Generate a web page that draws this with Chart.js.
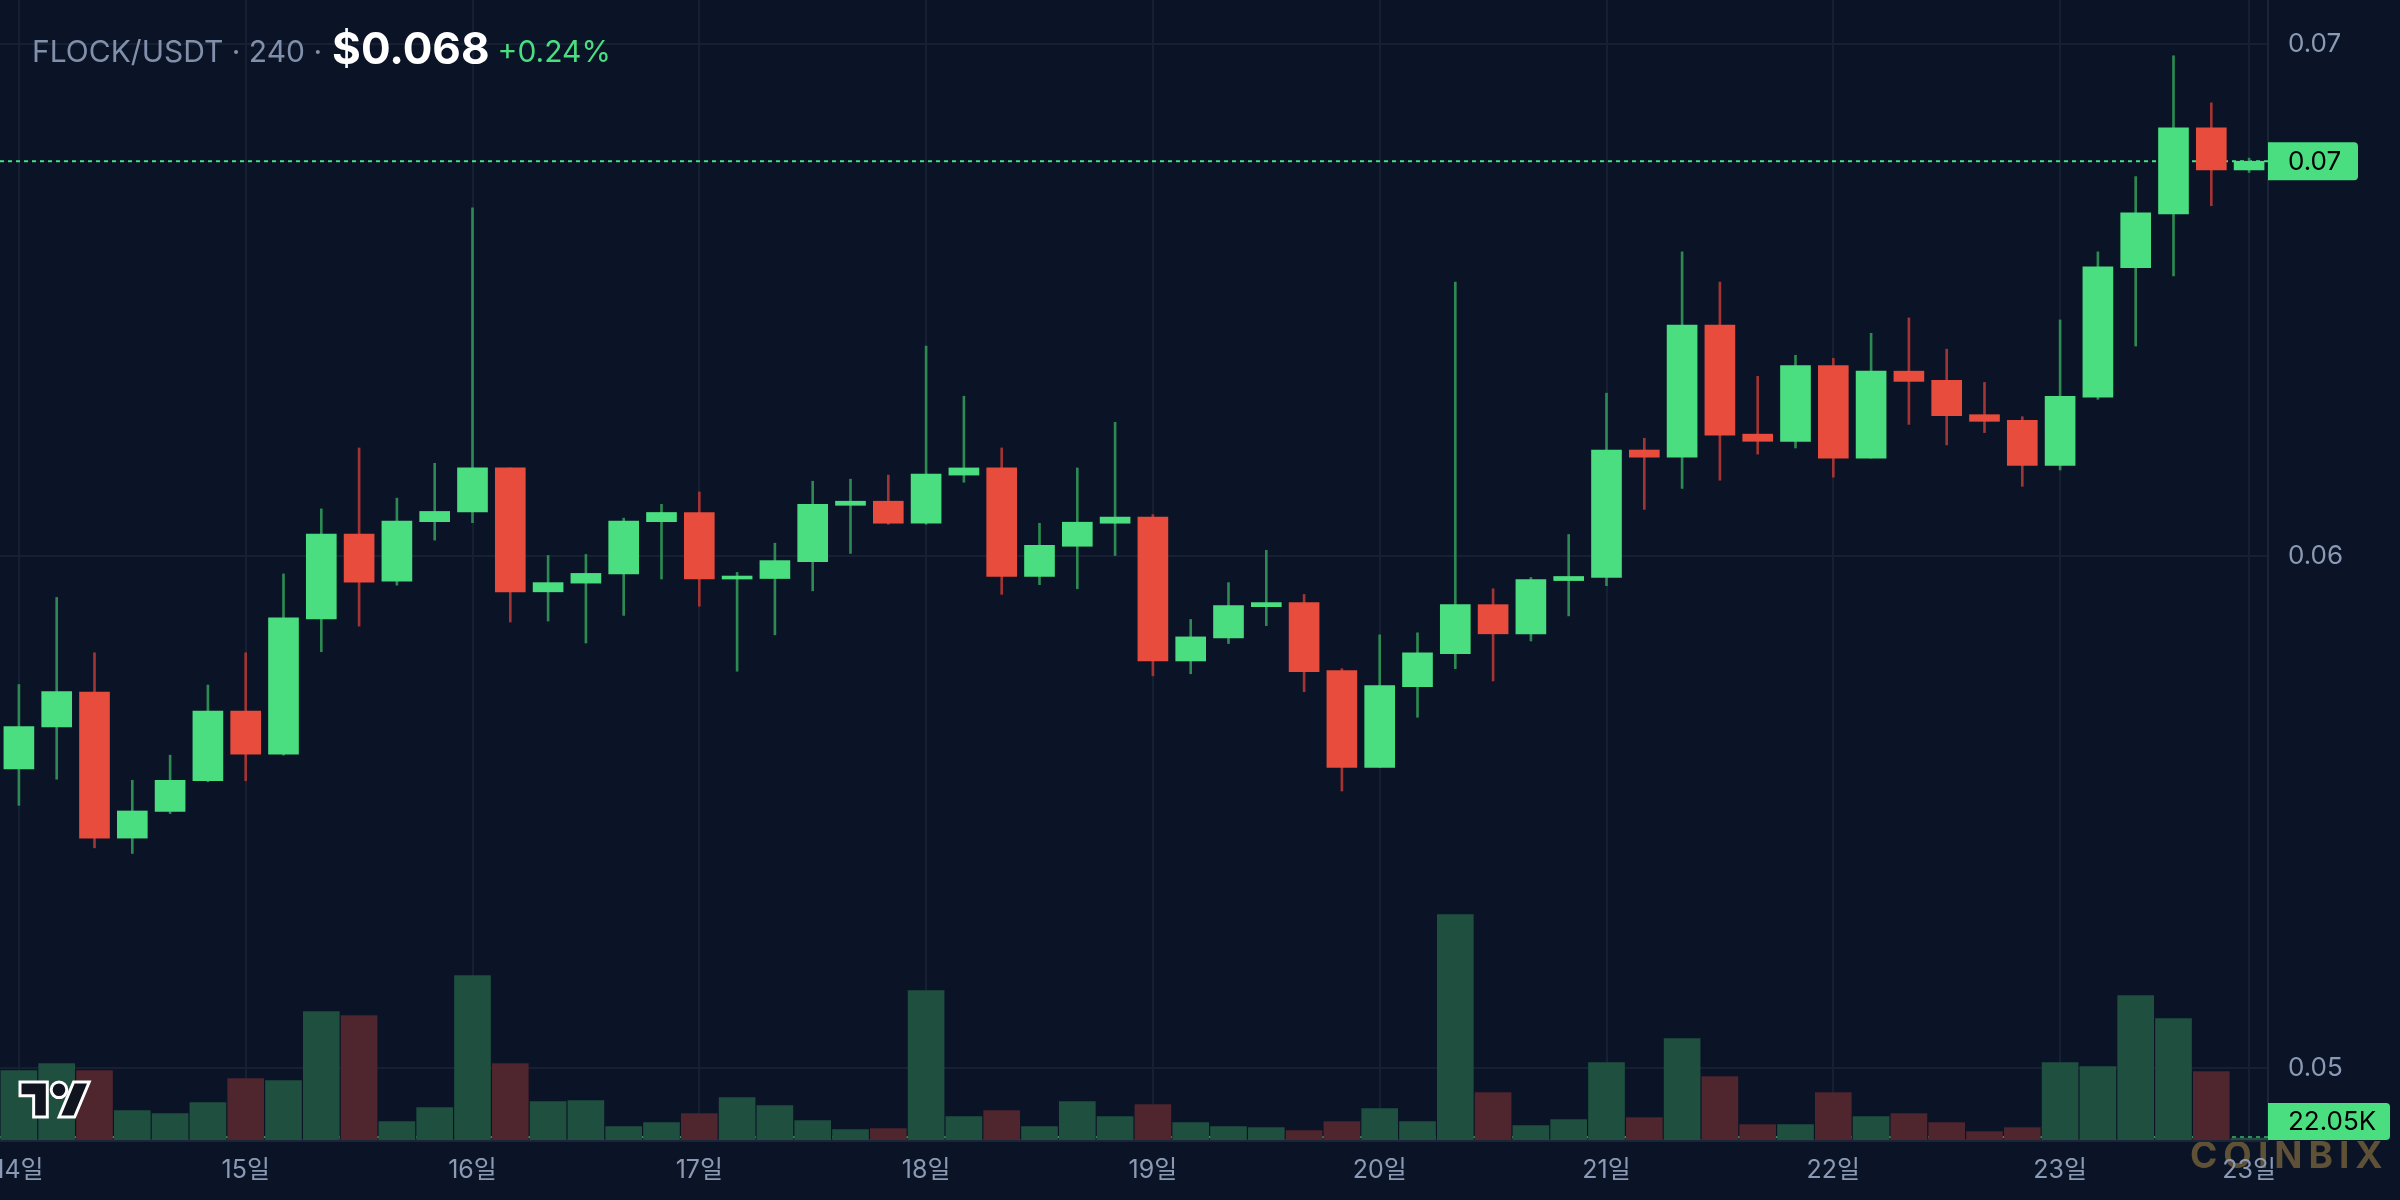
<!DOCTYPE html>
<html>
<head>
<meta charset="utf-8">
<script src="https://cdn.jsdelivr.net/npm/chart.js@4.4.1/dist/chart.umd.min.js"></script>
<style>
  html, body { margin: 0; padding: 0; background: #0b1326; }
  #wrap { width: 2400px; height: 1200px; position: relative; }
</style>
</head>
<body>
<div id="wrap"><canvas id="chart"></canvas></div>
<script>
// 4h candles, 14일 00:00 .. 23일 20:00
const dayLabels = ['14일', '15일', '16일', '17일', '18일', '19일', '20일', '21일', '22일', '23일'];
const hourLabels = ['00:00', '04:00', '08:00', '12:00', '16:00', '20:00'];

const opens = [
  0.05584, 0.05666, 0.05734, 0.05449, 0.05501, 0.05561, 0.05697, 0.05613, 0.05877, 0.06043,
  0.05951, 0.06067, 0.06086, 0.06172, 0.05930, 0.05947, 0.05965, 0.06067, 0.06085, 0.05955,
  0.05956, 0.05989, 0.06099, 0.06107, 0.06064, 0.06158, 0.06172, 0.05960, 0.06019, 0.06064,
  0.06076, 0.05795, 0.05840, 0.05901, 0.05909, 0.05776, 0.05587, 0.05745, 0.05809, 0.05905,
  0.05848, 0.05952, 0.05958, 0.06207, 0.06193, 0.06451, 0.06238, 0.06224, 0.06372, 0.06191,
  0.06361, 0.06343, 0.06276, 0.06265, 0.06177, 0.06310, 0.06563, 0.06668, 0.06836, 0.06754
];
const closes = [
  0.05667, 0.05735, 0.05449, 0.05502, 0.05562, 0.05697, 0.05613, 0.05879, 0.06043, 0.05949,
  0.06068, 0.06087, 0.06172, 0.05930, 0.05948, 0.05966, 0.06068, 0.06085, 0.05955, 0.05957,
  0.05991, 0.06101, 0.06107, 0.06064, 0.06160, 0.06172, 0.05960, 0.06021, 0.06066, 0.06076,
  0.05795, 0.05842, 0.05903, 0.05909, 0.05774, 0.05587, 0.05747, 0.05811, 0.05905, 0.05848,
  0.05954, 0.05960, 0.06207, 0.06193, 0.06451, 0.06236, 0.06224, 0.06372, 0.06191, 0.06361,
  0.06341, 0.06274, 0.06263, 0.06177, 0.06312, 0.06565, 0.06670, 0.06836, 0.06754, 0.06771
];
const highs = [
  0.05749, 0.05919, 0.05811, 0.05562, 0.05611, 0.05748, 0.05811, 0.05965, 0.06092, 0.06211,
  0.06113, 0.06181, 0.06680, 0.06172, 0.06001, 0.06003, 0.06074, 0.06101, 0.06125, 0.05968,
  0.06025, 0.06146, 0.06150, 0.06158, 0.06410, 0.06312, 0.06211, 0.06064, 0.06172, 0.06261,
  0.06081, 0.05876, 0.05948, 0.06011, 0.05925, 0.05780, 0.05846, 0.05850, 0.06535, 0.05936,
  0.05958, 0.06042, 0.06318, 0.06230, 0.06594, 0.06535, 0.06351, 0.06392, 0.06386, 0.06435,
  0.06465, 0.06404, 0.06339, 0.06272, 0.06461, 0.06594, 0.06741, 0.06977, 0.06885, 0.06777
];
const lows = [
  0.05513, 0.05564, 0.05430, 0.05419, 0.05497, 0.05559, 0.05561, 0.05611, 0.05813, 0.05863,
  0.05943, 0.06031, 0.06065, 0.05871, 0.05873, 0.05830, 0.05884, 0.05955, 0.05902, 0.05775,
  0.05846, 0.05932, 0.06005, 0.06062, 0.06062, 0.06144, 0.05925, 0.05944, 0.05936, 0.06001,
  0.05766, 0.05770, 0.05829, 0.05864, 0.05735, 0.05541, 0.05587, 0.05685, 0.05780, 0.05756,
  0.05834, 0.05883, 0.05942, 0.06091, 0.06132, 0.06148, 0.06199, 0.06211, 0.06154, 0.06191,
  0.06257, 0.06217, 0.06241, 0.06136, 0.06168, 0.06306, 0.06410, 0.06547, 0.06684, 0.06749
];
// volume in thousands
const volumes = [
  832, 916, 832, 352, 316, 448, 736, 712, 1540, 1492,
  220, 388, 1972, 916, 460, 472, 160, 208, 316, 508,
  412, 232, 124, 136, 1792, 280, 352, 160, 460, 280,
  424, 208, 160, 148, 112, 220, 376, 220, 2704, 568,
  172, 244, 928, 268, 1216, 760, 184, 184, 568, 280,
  316, 208, 100, 148, 928, 880, 1732, 1456, 820, 22.05
];
const priceTicks = [0.05, 0.06, 0.07];

const pairText = 'FLOCK/USDT · 240 ·';
const priceText = '$0.068';
const changeText = '+0.24%';
const watermark = 'COINBIX';

const UP = '#4ade80', DOWN = '#e74c3c';
const UP_WICK = '#2d8a52', DOWN_WICK = '#a33434';
const UP_VOL = '#1f503f', DOWN_VOL = '#4f252e';
const GRID = '#172033';
const TEXT = '#8b9ab4';
const BG = '#0b1326';
const FONT = "Inter, 'Noto Sans CJK KR', sans-serif";

const categories = [];
dayLabels.forEach(d => hourLabels.forEach(h => categories.push(d + ' ' + h)));
const tickLabels = categories.map((c, i) =>
  (i % 6 === 0 || i === categories.length - 1) ? dayLabels[Math.floor(i / 6)] : '');

const isUp = opens.map((o, i) => closes[i] >= o);
const last = closes.length - 1;

const bgPlugin = {
  id: 'bg',
  beforeDraw(chart) {
    const ctx = chart.ctx;
    ctx.save();
    ctx.fillStyle = BG;
    ctx.fillRect(0, 0, chart.width, chart.height);
    ctx.font = 'bold 37px ' + FONT;
    ctx.letterSpacing = '6px';
    ctx.fillStyle = '#5f5135';
    ctx.textBaseline = 'middle';
    ctx.fillText(watermark, 2190, 1157);
    ctx.restore();
  },
  beforeDatasetsDraw(chart) {
    const ctx = chart.ctx, area = chart.chartArea;
    const y = chart.scales.y.getPixelForValue(closes[last]);
    const yv = chart.scales.yVol.getPixelForValue(volumes[last]) - 1;
    ctx.save();
    ctx.strokeStyle = UP;
    ctx.lineWidth = 2;
    ctx.setLineDash([4, 4]);
    ctx.beginPath();
    ctx.moveTo(area.left, y); ctx.lineTo(area.right, y);
    ctx.stroke();
    ctx.globalAlpha = 0.7;
    ctx.beginPath();
    ctx.moveTo(area.left, yv); ctx.lineTo(area.right, yv);
    ctx.stroke();
    ctx.restore();
  },
  afterDraw(chart) {
    const ctx = chart.ctx, area = chart.chartArea;
    ctx.save();
    // last price tag
    const y = chart.scales.y.getPixelForValue(closes[last]);
    ctx.fillStyle = UP;
    ctx.beginPath();
    ctx.roundRect(area.right, y - 19, 90, 38, [0, 4, 4, 0]);
    ctx.fill();
    ctx.fillStyle = '#000';
    ctx.font = '26px ' + FONT;
    ctx.textBaseline = 'middle';
    ctx.fillText(closes[last].toFixed(2), area.right + 20, y + 1);
    // last volume tag
    ctx.fillStyle = UP;
    ctx.beginPath();
    ctx.roundRect(area.right, area.bottom - 37, 122, 37, [0, 4, 4, 0]);
    ctx.fill();
    ctx.fillStyle = '#000';
    ctx.fillText(volumes[last].toFixed(2) + 'K', area.right + 20, area.bottom - 18);

    // title
    ctx.textBaseline = 'alphabetic';
    let x = 32;
    const base = 62;
    ctx.font = '30px ' + FONT;
    ctx.fillStyle = '#8190aa';
    ctx.fillText(pairText, x, base);
    x += ctx.measureText(pairText).width + 10;
    ctx.font = 'bold 44px ' + FONT;
    ctx.fillStyle = '#ffffff';
    ctx.fillText(priceText, x, base + 2);
    x += ctx.measureText(priceText).width + 8;
    ctx.font = '30px ' + FONT;
    ctx.fillStyle = UP;
    ctx.fillText(changeText, x, base);

    // logo
    const s = 1.95, ox = 20, oy = 1082 - 4 * s;
    const P = (px, py) => [ox + px * s, oy + py * s];
    ctx.fillStyle = '#10141f';
    ctx.strokeStyle = '#ffffff';
    ctx.lineWidth = 3;
    ctx.lineJoin = 'miter';
    const poly = pts => {
      ctx.beginPath();
      pts.forEach((p, i) => { const q = P(p[0], p[1]); i ? ctx.lineTo(q[0], q[1]) : ctx.moveTo(q[0], q[1]); });
      ctx.closePath(); ctx.fill(); ctx.stroke();
    };
    poly([[0, 4], [14, 4], [14, 22], [7, 22], [7, 11], [0, 11]]);
    poly([[20, 22], [27.5, 4], [35.5, 4], [28, 22]]);
    const c = P(20, 8);
    ctx.beginPath(); ctx.arc(c[0], c[1], 4 * s, 0, Math.PI * 2); ctx.fill(); ctx.stroke();
    ctx.restore();
  }
};

new Chart(document.getElementById('chart'), {
  type: 'bar',
  data: {
    labels: categories,
    datasets: [
      {
        label: 'body',
        data: opens.map((o, i) => [o, closes[i]]),
        backgroundColor: isUp.map(u => u ? UP : DOWN),
        barThickness: 30,
        minBarLength: 3,
        grouped: false,
        yAxisID: 'y',
        order: 0
      },
      {
        label: 'wick',
        data: lows.map((l, i) => [l, highs[i]]),
        backgroundColor: isUp.map(u => u ? UP_WICK : DOWN_WICK),
        barThickness: 2,
        grouped: false,
        yAxisID: 'y',
        order: 1
      },
      {
        label: 'volume',
        data: volumes,
        backgroundColor: isUp.map(u => u ? UP_VOL : DOWN_VOL),
        barThickness: 36,
        grouped: false,
        yAxisID: 'yVol',
        order: 2
      }
    ]
  },
  options: {
    responsive: true,
    maintainAspectRatio: false,
    animation: false,
    layout: { padding: 0 },
    plugins: { legend: { display: false }, tooltip: { enabled: false } },
    scales: {
      x: {
        offset: true,
        grid: {
          offset: false,
          drawTicks: false,
          lineWidth: 2,
          color: c => (c.index % 6 === 0 || c.index === last) ? GRID : 'rgba(0,0,0,0)'
        },
        border: { display: true, color: '#1c2537', width: 3 },
        ticks: {
          autoSkip: false,
          maxRotation: 0,
          padding: 15,
          color: TEXT,
          font: { size: 25, family: FONT },
          callback: (v, i) => tickLabels[i]
        },
        afterFit: s => { s.height = 60; s.paddingLeft = 0; s.paddingRight = 0; }
      },
      y: {
        position: 'right',
        min: 0.048594,
        max: 0.070859,
        grid: { color: GRID, lineWidth: 2, drawTicks: false },
        border: { display: true, color: '#1c2537', width: 2 },
        afterBuildTicks: s => { s.ticks = priceTicks.map(v => ({ value: v })); },
        ticks: {
          padding: 20,
          color: TEXT,
          font: { size: 26, family: FONT },
          callback: v => v.toFixed(2)
        },
        afterFit: s => { s.width = 132; s.paddingTop = 0; s.paddingBottom = 0; }
      },
      yVol: {
        display: false,
        min: 0,
        max: 13680
      }
    }
  },
  plugins: [bgPlugin]
});
</script>
</body>
</html>
